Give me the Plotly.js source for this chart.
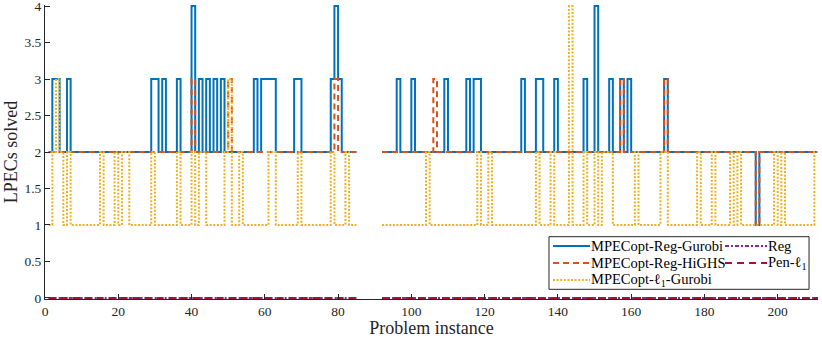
<!DOCTYPE html>
<html>
<head>
<meta charset="utf-8">
<script src="https://cdn.plot.ly/plotly-3.0.1.min.js"></script>
<style>html,body{margin:0;padding:0;background:#fff;}#chart{width:822px;height:338px;}</style>
</head>
<body>
<div id="chart"></div>
<script>
// Problem instances 1..211 (86-91 missing)
const instances = Array.from({length: 211}, (_, i) => i + 1);

const seriesNames = ['MPECopt-Reg-Gurobi', 'MPECopt-Reg-HiGHS', 'MPECopt-\u2113<sub>1</sub>-Gurobi', 'Reg', 'Pen-\u2113<sub>1</sub>'];
const seriesColors = ['#0072BD', '#D95319', '#EDB120', '#7E2F8E', '#A2142F'];
const seriesDash = ['solid', '6px,4px', '2px,1.6px', '4px,2px,2px,2px', '7px,5px'];

const regGurobi = [
2,3,3,2,2,3,2,2,2,2,
2,2,2,2,2,2,2,2,2,2,
2,2,2,2,2,2,2,2,3,3,
2,3,2,2,2,3,2,2,2,4,
2,3,2,3,2,3,2,3,2,2,
2,2,2,2,2,2,3,2,3,3,
3,3,2,2,2,2,2,3,3,2,
2,2,2,2,2,2,2,3,4,3,
2,2,2,2,2,null,null,null,null,null,
null,2,2,2,2,3,2,2,2,3,
2,2,2,2,2,2,2,2,3,2,
2,2,2,2,3,2,3,3,2,2,
2,2,2,2,2,2,2,2,2,3,
2,2,2,3,3,2,2,2,3,2,
2,2,2,2,2,2,3,2,2,4,
2,2,2,3,2,2,3,2,3,2,
2,2,2,2,2,2,2,2,3,2,
2,2,2,2,2,2,2,2,2,2,
2,2,2,2,2,2,2,2,2,2,
2,2,2,1,2,2,2,2,2,2,
2,2,2,2,2,2,2,2,2,2,2
];

const regHighs = [
2,2,2,2,2,2,2,2,2,2,
2,2,2,2,2,2,2,2,2,2,
2,2,2,2,2,2,2,2,2,2,
2,2,2,2,2,2,2,2,2,3,
2,2,2,2,2,2,2,2,2,3,
2,2,2,2,2,2,2,2,2,2,
2,2,2,2,2,2,2,2,2,2,
2,2,2,2,2,2,2,2,3,2,
2,2,2,2,2,null,null,null,null,null,
null,2,2,2,2,2,2,2,2,2,
2,2,2,2,2,3,2,2,2,2,
2,2,2,2,2,2,2,2,2,2,
2,2,2,2,2,2,2,2,2,2,
2,2,2,2,2,2,2,2,2,2,
2,2,2,2,2,2,2,2,2,2,
2,2,2,2,2,2,3,2,2,2,
2,2,2,2,2,2,2,2,3,2,
2,2,2,2,2,2,2,2,2,2,
2,2,2,2,2,2,2,2,2,2,
2,2,2,1,2,2,2,2,2,2,
2,2,2,2,2,2,2,2,2,2,2
];

const l1Gurobi = [
1,2,3,2,1,2,1,1,1,1,
1,1,1,1,2,1,1,1,2,1,
2,2,1,1,1,1,1,1,2,1,
1,1,1,1,1,2,1,1,1,2,
1,2,2,1,1,1,1,1,2,3,
1,1,2,1,1,1,1,1,1,1,
2,2,1,1,1,1,1,1,2,1,
1,1,1,1,1,1,1,2,1,1,
1,2,1,1,1,null,null,null,null,null,
null,1,1,1,1,1,1,1,1,1,
1,1,1,2,1,1,1,1,1,1,
1,1,1,1,1,1,1,2,1,1,
2,1,1,1,1,1,1,1,1,1,
1,1,1,2,1,1,1,2,1,1,
1,1,4,1,1,1,2,1,1,2,
1,2,2,2,1,1,1,1,1,1,
2,1,1,1,1,1,1,2,2,1,
1,1,1,1,1,1,1,2,1,1,
1,2,1,1,1,1,2,1,2,1,
1,1,1,1,1,1,1,1,2,1,
2,1,1,1,1,1,1,1,1,2,2
];

const regOnly = [
0,0,0,0,0,0,0,0,0,0, 0,0,0,0,0,0,0,0,0,0, 0,0,0,0,0,0,0,0,0,0,
0,0,0,0,0,0,0,0,0,0, 0,0,0,0,0,0,0,0,0,0, 0,0,0,0,0,0,0,0,0,0,
0,0,0,0,0,0,0,0,0,0, 0,0,0,0,0,0,0,0,0,0,
0,0,0,0,0,null,null,null,null,null,
null,0,0,0,0,0,0,0,0,0,
0,0,0,0,0,0,0,0,0,0, 0,0,0,0,0,0,0,0,0,0, 0,0,0,0,0,0,0,0,0,0,
0,0,0,0,0,0,0,0,0,0, 0,0,0,0,0,0,0,0,0,0, 0,0,0,0,0,0,0,0,0,0,
0,0,0,0,0,0,0,0,0,0, 0,0,0,0,0,0,0,0,0,0, 0,0,0,0,0,0,0,0,0,0,
0,0,0,0,0,0,0,0,0,0, 0,0,0,0,0,0,0,0,0,0,0
];

const penL1 = [
0,0,0,0,0,0,0,0,0,0, 0,0,0,0,0,0,0,0,0,0, 0,0,0,0,0,0,0,0,0,0,
0,0,0,0,0,0,0,0,0,0, 0,0,0,0,0,0,0,0,0,0, 0,0,0,0,0,0,0,0,0,0,
0,0,0,0,0,0,0,0,0,0, 0,0,0,0,0,0,0,0,0,0,
0,0,0,0,0,null,null,null,null,null,
null,0,0,0,0,0,0,0,0,0,
0,0,0,0,0,0,0,0,0,0, 0,0,0,0,0,0,0,0,0,0, 0,0,0,0,0,0,0,0,0,0,
0,0,0,0,0,0,0,0,0,0, 0,0,0,0,0,0,0,0,0,0, 0,0,0,0,0,0,0,0,0,0,
0,0,0,0,0,0,0,0,0,0, 0,0,0,0,0,0,0,0,0,0, 0,0,0,0,0,0,0,0,0,0,
0,0,0,0,0,0,0,0,0,0, 0,0,0,0,0,0,0,0,0,0,0
];

const xTickVals = [0, 20, 40, 60, 80, 100, 120, 140, 160, 180, 200];
const yTickVals = [0, 0.5, 1, 1.5, 2, 2.5, 3, 3.5, 4];
const yTickText = ['0', '0.5', '1', '1.5', '2', '2.5', '3', '3.5', '4'];

const FONT = 'Liberation Serif, Times New Roman, serif';
const AX = '#262626';

const seriesY = [regGurobi, regHighs, l1Gurobi, regOnly, penL1];
const traces = seriesY.map((ys, i) => ({
  x: instances, y: ys, name: seriesNames[i], type: 'scatter', mode: 'lines',
  line: {shape: 'hv', color: seriesColors[i], width: 2, dash: seriesDash[i]}
}));

// Legend box (two columns, MATLAB-style), built from the series styles
const legendCols = [
  {lx0: 0.6572, lx1: 0.7050, tx: 0.7055, items: [0, 1, 2]},
  {lx0: 0.8797, lx1: 0.9340, tx: 0.9335, items: [3, 4]}
];
const legendRowsY = [0.1803, 0.1224, 0.0646];
const shapes = [{
  type: 'rect', xref: 'paper', yref: 'paper', layer: 'above',
  x0: 0.6520, x1: 0.9884, y0: 0.0330, y1: 0.2119,
  fillcolor: '#ffffff', line: {color: AX, width: 1}
}];
const annotations = [];
legendCols.forEach(col => {
  col.items.forEach((s, r) => {
    shapes.push({
      type: 'line', xref: 'paper', yref: 'paper', layer: 'above',
      x0: col.lx0, x1: col.lx1, y0: legendRowsY[r], y1: legendRowsY[r],
      line: {color: seriesColors[s], width: 2, dash: seriesDash[s]}
    });
    annotations.push({
      xref: 'paper', yref: 'paper', x: col.tx, y: legendRowsY[r],
      xanchor: 'left', yanchor: 'middle', showarrow: false, text: seriesNames[s],
      font: {family: FONT, size: 14.5, color: '#000'}, borderpad: 0
    });
  });
});

const layout = {
  width: 822, height: 338,
  margin: {l: 45, r: 4, t: 5, b: 39},
  paper_bgcolor: '#fff', plot_bgcolor: '#fff',
  font: {family: FONT, size: 13, color: AX},
  showlegend: false,
  xaxis: {
    range: [0, 211], tickvals: xTickVals, ticks: 'inside', ticklen: 5, tickcolor: AX,
    showline: true, linecolor: AX, linewidth: 1, mirror: false, showgrid: false, zeroline: false,
    tickfont: {family: FONT, size: 13.5, color: AX}, ticklabeloverflow: 'allow',
    title: {text: 'Problem instance', font: {family: FONT, size: 18, color: AX}, standoff: 4},
    automargin: false
  },
  yaxis: {
    range: [-0.015, 4.015], tickvals: yTickVals, ticktext: yTickText, ticks: 'inside', ticklen: 5, tickcolor: AX,
    showline: true, linecolor: AX, linewidth: 1, mirror: false, showgrid: false, zeroline: false,
    tickfont: {family: FONT, size: 13.5, color: AX}, ticklabeloverflow: 'allow',
    title: {text: 'LPECs solved', font: {family: FONT, size: 18, color: AX}, standoff: 2},
    automargin: false
  },
  shapes: shapes,
  annotations: annotations
};

Plotly.newPlot('chart', traces, layout, {displayModeBar: false, staticPlot: true});
</script>
</body>
</html>
